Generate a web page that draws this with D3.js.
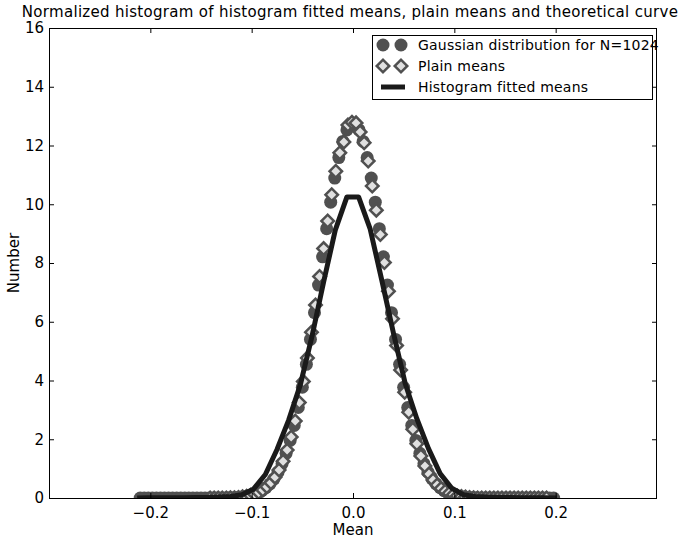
<!DOCTYPE html>
<html>
<head>
<meta charset="utf-8">
<script src="https://cdn.jsdelivr.net/npm/d3@7"></script>
<style>
  body { margin: 0; background: #fff; }
  text { font-family: "DejaVu Sans", sans-serif; fill: #000; }
</style>
</head>
<body>
<div id="chart"></div>
<script>
// bin centres: start + step
const gaussStart = -0.21, gaussStep = 0.004;
const gaussValues = [
  0, 0, 0, 0, 0, 0, 0, 0, 0, 0, 0, 0, 0, 0, 0, 0, 0, 0, 0, 0, 0, 0,
  0.01, 0.01, 0.02, 0.03, 0.05, 0.08, 0.12, 0.17, 0.25, 0.35, 0.48, 0.65, 0.88, 1.17,
  1.52, 1.96, 2.47, 3.08, 3.77, 4.55, 5.40, 6.31, 7.25, 8.21, 9.17, 10.07, 10.89, 11.59,
  12.14, 12.53, 12.73,
  12.73, 12.53, 12.14, 11.59, 10.89, 10.07, 9.17, 8.21, 7.25, 6.31, 5.40, 4.55, 3.77,
  3.08, 2.47, 1.96, 1.52, 1.17, 0.88, 0.65, 0.48, 0.35, 0.25, 0.17, 0.12, 0.08, 0.05,
  0.03, 0.02, 0.01, 0.01,
  0, 0, 0, 0, 0, 0, 0, 0, 0, 0, 0, 0, 0, 0, 0, 0, 0, 0, 0
];

const plainStart = -0.141, plainStep = 0.004;
const plainValues = [
  0, 0, 0, 0, 0, 0.01, 0.01, 0.02, 0.04, 0.06, 0.09, 0.13, 0.19, 0.27, 0.38, 0.52,
  0.71, 0.95, 1.25, 1.63, 2.08, 2.62, 3.25, 3.97, 4.77, 5.64, 6.57, 7.54, 8.49, 9.43,
  10.32, 11.12, 11.75, 12.12, 12.70, 12.79,
  12.77, 12.46, 12.09, 11.47, 10.62, 9.80, 8.97, 8.02, 7.04, 6.10, 5.19, 4.36, 3.60,
  2.92, 2.34, 1.85, 1.43, 1.09, 0.82, 0.61, 0.44, 0.32, 0.23, 0.16, 0.11, 0.07, 0.05,
  0.03, 0.02, 0.01,
  0, 0, 0, 0, 0, 0, 0, 0, 0, 0, 0, 0, 0, 0, 0, 0, 0, 0
];

const fittedStart = -0.213, fittedStep = 0.0115;
const fittedValues = [
  0, 0.01, 0.01, 0.01, 0.01, 0.02, 0.02, 0.03, 0.05, 0.11, 0.31, 0.80, 1.65, 2.65,
  3.85, 5.50, 7.35, 9.12, 10.25,
  10.25, 9.15, 7.40, 5.60, 3.90, 2.70, 1.68, 0.83, 0.33, 0.11, 0.05, 0.03, 0.02, 0.02,
  0.01, 0.01, 0.01, 0
];

const xTicks = [-0.2, -0.1, 0.0, 0.1, 0.2];
const yTicks = [0, 2, 4, 6, 8, 10, 12, 14, 16];
const legendLabels = ["Gaussian distribution for N=1024", "Plain means", "Histogram fitted means"];

const width = 698, height = 540
, plotLeft = 49, plotRight = 657, plotTop = 28, plotBottom = 498
, tickLen = 5
, markColor = "#505050"
, diamondFill = "#e0e0e0"
, lineColor = "#1a1a1a";

const toPoints = (start, step, vals) => vals.map((v, i) => ({x: start + i * step, y: v}));
const gaussData = toPoints(gaussStart, gaussStep, gaussValues)
, plainData = toPoints(plainStart, plainStep, plainValues)
, fittedData = toPoints(fittedStart, fittedStep, fittedValues);

const x = d3.scaleLinear().domain([-0.3, 0.3]).range([plotLeft, plotRight]);
const y = d3.scaleLinear().domain([0, 16]).range([plotBottom, plotTop]);

const svg = d3.select("#chart").append("svg")
  .attr("width", width)
  .attr("height", height);

svg.append("clipPath").attr("id", "plotClip")
  .append("rect")
  .attr("x", plotLeft).attr("y", plotTop)
  .attr("width", plotRight - plotLeft).attr("height", plotBottom - plotTop);

const plot = svg.append("g").attr("clip-path", "url(#plotClip)");

// theoretical gaussian
plot.selectAll(".gauss")
  .data(gaussData)
  .enter().append("circle")
  .attr("class", "gauss")
  .attr("cx", d => x(d.x))
  .attr("cy", d => y(d.y))
  .attr("r", 6.5)
  .style("fill", markColor);

// plain means
const diamond = d3.symbol().type(d3.symbolSquare).size(78);
plot.selectAll(".plain")
  .data(plainData)
  .enter().append("path")
  .attr("class", "plain")
  .attr("d", diamond)
  .attr("transform", d => `translate(${x(d.x)},${y(d.y)}) rotate(45)`)
  .style("fill", diamondFill)
  .style("stroke", markColor)
  .style("stroke-width", 2.5);

// histogram fitted means
const line = d3.line().x(d => x(d.x)).y(d => y(d.y));
plot.append("path")
  .datum(fittedData)
  .attr("d", line)
  .style("fill", "none")
  .style("stroke", lineColor)
  .style("stroke-width", 5)
  .style("stroke-linejoin", "round");

// axes, ticks pointing in on all four sides
const fmtX = d3.format(".1f");
const xBottom = d3.axisBottom(x).tickValues(xTicks).tickSizeInner(-tickLen).tickSizeOuter(0).tickPadding(9).tickFormat(fmtX);
const xTop = d3.axisTop(x).tickValues(xTicks).tickSizeInner(-tickLen).tickSizeOuter(0).tickFormat("");
const yLeft = d3.axisLeft(y).tickValues(yTicks).tickSizeInner(-tickLen).tickSizeOuter(0).tickPadding(5);
const yRight = d3.axisRight(y).tickValues(yTicks).tickSizeInner(-tickLen).tickSizeOuter(0).tickFormat("");

function styleAxis(g) {
  g.select(".domain").remove();
  g.selectAll("line").style("stroke", "#000").style("stroke-width", 1);
  g.selectAll("text").style("font-size", "15px").style("font-family", "DejaVu Sans").style("fill", "#000");
}

svg.append("g").attr("transform", `translate(0,${plotBottom})`).call(xBottom).call(styleAxis);
svg.append("g").attr("transform", `translate(0,${plotTop})`).call(xTop).call(styleAxis);
svg.append("g").attr("transform", `translate(${plotLeft},0)`).call(yLeft).call(styleAxis);
svg.append("g").attr("transform", `translate(${plotRight},0)`).call(yRight).call(styleAxis);

svg.append("rect")
  .attr("x", plotLeft + 0.5).attr("y", plotTop + 0.5)
  .attr("width", plotRight - plotLeft - 1).attr("height", plotBottom - plotTop)
  .style("fill", "none")
  .style("stroke", "#000")
  .style("stroke-width", 1);

// title and axis labels
svg.append("text")
  .attr("x", 350)
  .attr("y", 17)
  .attr("text-anchor", "middle")
  .style("font-size", "15px")
  .style("letter-spacing", "0.3px")
  .text("Normalized histogram of histogram fitted means, plain means and theoretical curve");

svg.append("text")
  .attr("x", (plotLeft + plotRight) / 2)
  .attr("y", 535)
  .attr("text-anchor", "middle")
  .style("font-size", "15px")
  .text("Mean");

svg.append("text")
  .attr("transform", `translate(19,${(plotTop + plotBottom) / 2}) rotate(-90)`)
  .attr("text-anchor", "middle")
  .style("font-size", "15px")
  .text("Number");

// legend
const legX = 372, legY = 35, legW = 280, legH = 64, rowGap = 21;
const legend = svg.append("g");
legend.append("rect")
  .attr("x", legX + 0.5).attr("y", legY + 0.5)
  .attr("width", legW).attr("height", legH)
  .style("fill", "#fff")
  .style("stroke", "#000")
  .style("stroke-width", 1);

const rowY = i => legY + 10 + i * rowGap;

legend.selectAll(".legCircle")
  .data([383, 401])
  .enter().append("circle")
  .attr("cx", d => d).attr("cy", rowY(0))
  .attr("r", 6.5)
  .style("fill", markColor);

legend.selectAll(".legDiamond")
  .data([383, 401])
  .enter().append("path")
  .attr("d", diamond)
  .attr("transform", d => `translate(${d},${rowY(1)}) rotate(45)`)
  .style("fill", diamondFill)
  .style("stroke", markColor)
  .style("stroke-width", 2.5);

legend.append("line")
  .attr("x1", 381).attr("x2", 405)
  .attr("y1", rowY(2)).attr("y2", rowY(2))
  .style("stroke", lineColor)
  .style("stroke-width", 5);

legend.selectAll(".legText")
  .data(legendLabels)
  .enter().append("text")
  .attr("x", 418)
  .attr("y", (d, i) => rowY(i))
  .attr("dy", "0.35em")
  .style("font-size", "14px")
  .style("letter-spacing", "0.2px")
  .text(d => d);
</script>
</body>
</html>
